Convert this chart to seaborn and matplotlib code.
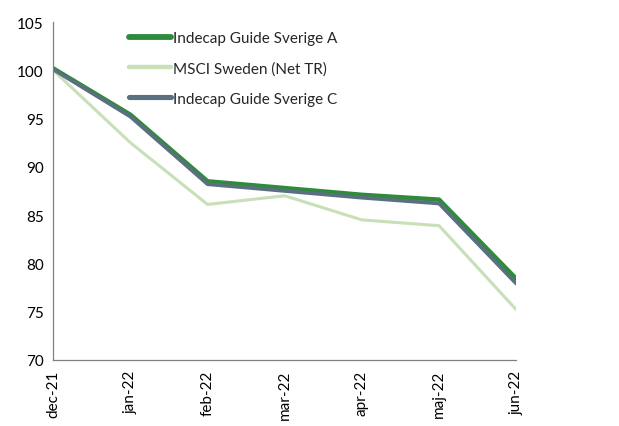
import pandas as pd
import matplotlib
matplotlib.use("Agg")
import matplotlib.pyplot as plt
import seaborn as sns

months = ["dec-21", "jan-22", "feb-22", "mar-22", "apr-22", "maj-22", "jun-22"]
guide_a = [100.2, 95.4, 88.5, 87.8, 87.1, 86.6, 78.4]
msci = [100.0, 92.5, 86.1, 87.0, 84.5, 83.9, 75.2]
guide_c = [100.1, 95.2, 88.2, 87.5, 86.8, 86.2, 77.9]

series = {
    "Indecap Guide Sverige A": guide_a,
    "MSCI Sweden (Net TR)": msci,
    "Indecap Guide Sverige C": guide_c,
}
colors = {
    "Indecap Guide Sverige A": "#2E8B3A",
    "MSCI Sweden (Net TR)": "#C8E0B8",
    "Indecap Guide Sverige C": "#5A7080",
}
widths = {
    "Indecap Guide Sverige A": 3.2,
    "MSCI Sweden (Net TR)": 2.2,
    "Indecap Guide Sverige C": 2.7,
}

sns.set_style("white")
plt.rcParams["font.family"] = ["Lato", "DejaVu Sans"]

fig = plt.figure(figsize=(6.19, 4.27), dpi=100)
ax = fig.add_axes([0.086, 0.155, 0.748, 0.791])

# light index drawn first, funds on top
for name in ["MSCI Sweden (Net TR)", "Indecap Guide Sverige A", "Indecap Guide Sverige C"]:
    df = pd.DataFrame({"x": range(len(months)), "y": series[name]})
    sns.lineplot(data=df, x="x", y="y", ax=ax, color=colors[name],
                 linewidth=widths[name], label=name)

ax.set_xlim(0, len(months) - 1)
ax.set_ylim(70, 105)
ax.set_yticks(range(70, 106, 5))
ax.set_xticks(range(len(months)))
ax.set_xticklabels(months, rotation=90)
ax.set_xlabel("")
ax.set_ylabel("")

for s in ["top", "right"]:
    ax.spines[s].set_visible(False)
for s in ["left", "bottom"]:
    ax.spines[s].set_color("#808080")
    ax.spines[s].set_linewidth(0.9)
ax.tick_params(axis="both", direction="out", length=5, width=0.9, color="#808080",
               labelsize=11, labelcolor="black", pad=2)

handles, labels = ax.get_legend_handles_labels()
order = ["Indecap Guide Sverige A", "MSCI Sweden (Net TR)", "Indecap Guide Sverige C"]
hmap = dict(zip(labels, handles))
leg = ax.legend([hmap[k] for k in order], order, loc="upper left",
                bbox_to_anchor=(0.164, 0.973), frameon=False, fontsize=11,
                handlelength=2.75, handletextpad=0.15, labelspacing=1.05,
                borderpad=0, borderaxespad=0)
for line, name in zip(leg.get_lines(), order):
    line.set_linewidth(widths[name] + 1.0)

fig.savefig("out.png", dpi=100)
